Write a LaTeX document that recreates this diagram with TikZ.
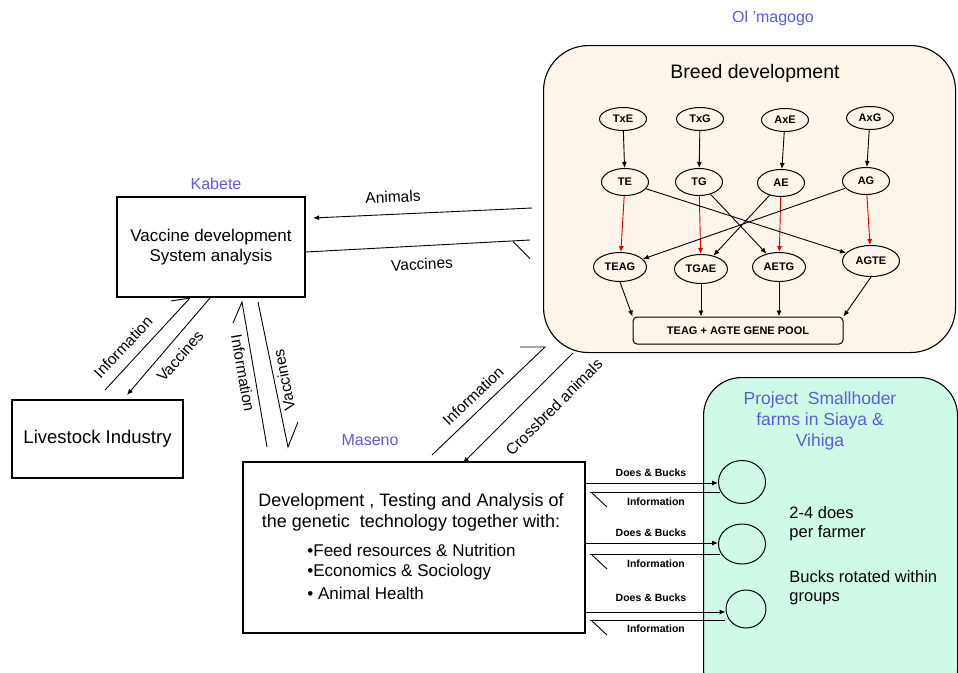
\documentclass[tikz,border=0pt]{standalone}
\usepackage{fontspec}
\setmainfont{Liberation Sans}
\usetikzlibrary{arrows.meta,calc,shapes.geometric}
\definecolor{lblue}{HTML}{5C5CE0}
\definecolor{beige}{HTML}{FDF4EA}
\definecolor{mint}{HTML}{CEFBE8}
\definecolor{redarr}{HTML}{E00000}
\begin{document}
\begin{tikzpicture}[x=1pt,y=-1pt,line width=0.9pt,
  tip/.style={-{Latex[length=6pt,width=5pt]}},
  box/.style={draw,line width=1.1pt,inner sep=0pt},
  blab/.style={text=lblue,font=\fontsize{16}{18}\selectfont},
  txt/.style={font=\fontsize{18}{20}\selectfont,inner sep=0pt},
  btxt/.style={font=\fontsize{17}{20}\selectfont,inner sep=0pt},
  alab/.style={font=\fontsize{15.5}{17}\selectfont,inner sep=0pt},
  tiny/.style={font=\fontsize{10.5}{12}\selectfont\bfseries,inner sep=0pt},
  ell/.style={draw,ellipse,line width=1pt,inner sep=0pt,minimum width=47pt,minimum height=27pt,font=\fontsize{11}{12}\selectfont\bfseries},
  farm/.style={draw,ellipse,line width=1pt,inner sep=0pt}]
\fill[white] (0,0) rectangle (958,672);
\useasboundingbox (0,0) rectangle (958,672);

% ---------- Ol'magogo ----------
\node[blab] (olt) at (773,18) {Ol 'magogo};
\node[box,rounded corners=45pt,fill=beige,minimum width=412pt,minimum height=307pt,anchor=north west] (breed) at (543,45) {};
\node[font=\fontsize{19.5}{21}\selectfont] (bt) at (755,73) {Breed development};

\node[ell,minimum height=23pt] (a1) at (623,119) {TxE};
\node[ell,minimum height=23pt] (a2) at (700,119) {TxG};
\node[ell,minimum height=23pt] (a3) at (785,120) {AxE};
\node[ell,minimum height=23pt] (a4) at (870,118) {AxG};
\node[ell] (b1) at (625,182) {TE};
\node[ell] (b2) at (699,182) {TG};
\node[ell] (b3) at (781,183) {AE};
\node[ell] (b4) at (866,181) {AG};
\node[ell,minimum width=53pt,minimum height=29pt] (c1) at (620,267) {TEAG};
\node[ell,minimum width=53pt,minimum height=29pt] (c2) at (701,269) {TGAE};
\node[ell,minimum width=53pt,minimum height=29pt] (c3) at (779,267) {AETG};
\node[ell,minimum width=57pt,minimum height=31pt] (c4) at (871,261) {AGTE};
\node[box,line width=1pt,rounded corners=4pt,minimum width=210pt,minimum height=27pt,font=\fontsize{11}{12}\selectfont\bfseries] (pool) at (738,330.5) {TEAG + AGTE GENE POOL};

\foreach \i in {1,2,3,4} {\draw[tip] (a\i) -- (b\i);}
\foreach \i in {1,2,3,4} {\draw[tip,redarr] (b\i) -- (c\i);}
\draw[tip] (b1) -- (c4);
\draw[tip] (b2) -- (c3);
\draw[tip] (b3) -- (c2);
\draw[tip] (b4) -- (c1);
\draw[tip] (c1.south) -- (pool.north west);
\draw[tip] (c2.south) -- (c2.south |- pool.north);
\draw[tip] (c3.south) -- (c3.south |- pool.north);
\draw[tip] (c4.south) -- (pool.north east);

% ---------- Kabete ----------
\node[blab] (kabt) at (216,184) {Kabete};
\node[box,minimum width=188pt,minimum height=100pt,align=center,font=\fontsize{17}{20}\selectfont] (kab) at (211,247) {Vaccine development\\System analysis};

% ---------- Livestock ----------
\node[box,minimum width=171pt,minimum height=78pt,font=\fontsize{18.5}{20}\selectfont] (live) at (97.5,439) {Livestock Industry};

% ---------- Maseno ----------
\node[blab] (mast) at (370,440) {Maseno};
\node[box,minimum width=342pt,minimum height=171pt] (mas) at (414,547.5) {};
\node[txt] (m1) at (411,502) {Development , Testing and Analysis of};
\node[txt] (m2) at (411,523) {the genetic \ technology together with:};
\node[btxt,anchor=west] (m3) at (307,550) {•Feed resources \& Nutrition};
\node[btxt,anchor=west] (m4) at (307,572) {•Economics \& Sociology};
\node[btxt,anchor=west] (m5) at (307,593) {• Animal Health};

% ---------- Smallholder farms ----------
\node[box,rounded corners=38pt,fill=mint,minimum width=254pt,minimum height=330pt,anchor=north west] (farms) at (703,377) {};
\node[blab,align=center,font=\fontsize{17.5}{21}\selectfont] (fart) at (820,421) {Project \ Smallhoder\\farms in Siaya \&\\Vihiga};
\node[farm,minimum width=47pt,minimum height=43pt] (f1) at (742,482) {};
\node[farm,minimum width=47pt,minimum height=40pt] (f2) at (742,544) {};
\node[farm,minimum width=40pt,minimum height=38pt] (f3) at (746,609) {};
\node[btxt,anchor=west,align=left,font=\fontsize{16.5}{19}\selectfont] (ft1) at (789,524) {2-4 does\\per farmer};
\node[btxt,anchor=west,align=left,font=\fontsize{16.5}{19}\selectfont] (ft2) at (789,588) {Bucks rotated within\\groups};

% ---------- connectors ----------
% Ol'magogo <-> Kabete
\coordinate (anS) at (532,208);
\coordinate (anE) at (313,218);
\draw[tip] (anS) -- (anE);
\node[alab,rotate=2.6] (lanim) at (393,197) {Animals};
\coordinate (vkS) at (kab.east |- 0,252);
\coordinate (vkE) at (530,240);
\coordinate (vkH) at (513,241.5);
\draw (vkS) -- (vkE);
\draw (vkH) -- ++(17,17);
\node[alab,rotate=3] (lvac) at (422,264) {Vaccines};

% Kabete <-> Livestock
\coordinate (ilS) at (105,390);
\coordinate (ilE) at (190,298);
\draw (ilS) -- (ilE) -- ++(-19,3);
\node[alab,rotate=47] (linf1) at (123,347) {Information};
\coordinate (vlS) at (210,298);
\coordinate (vlE) at (127,395);
\draw[tip] (vlS) -- (vlE);
\node[alab,rotate=49] (lvac1) at (180,356) {Vaccines};

% Kabete <-> Maseno
\coordinate (imS) at (267,447);
\coordinate (imE) at (242,302);
\draw (imS) -- (imE) -- ++(-9,21);
\node[alab,rotate=-80] (linf2) at (243,373) {Information};
\coordinate (vmS) at (258,302);
\coordinate (vmE) at (288,447);
\draw (vmS) -- (vmE) -- ++(10,-25);
\node[alab,rotate=101] (lvac2) at (284,380) {Vaccines};

% Maseno <-> Ol'magogo
\coordinate (ioS) at (432,455);
\coordinate (ioE) at (545,347);
\draw (ioS) -- (ioE) -- ++(-25,0);
\node[alab,rotate=44] (linf3) at (473,396) {Information};
\coordinate (caS) at (573,353);
\coordinate (caE) at (463,463);
\draw[tip] (caS) -- (caE);
\node[alab,rotate=45] (lcross) at (554,407) {Crossbred animals};

% Maseno <-> farms
\foreach \k/\ya/\yi/\xi in {1/483/492/720, 2/543/554/720, 3/612/620/725} {
  \coordinate (dS\k) at (mas.east |- 0,\ya);
  \draw[tip] (dS\k) -- (f\k.west |- 0,\ya);
  \coordinate (iS\k) at (\xi,\yi);
  \coordinate (iE\k) at (590,\yi);
  \draw (iS\k) -- (iE\k);
  \draw ($(iE\k)+(2,1)$) -- ++(15,14);
}
\node[tiny] (db1) at (651,473) {Does \& Bucks};
\node[tiny] (db2) at (651,533) {Does \& Bucks};
\node[tiny] (db3) at (651,598) {Does \& Bucks};
\node[tiny] (in1) at (656,502) {Information};
\node[tiny] (in2) at (656,564) {Information};
\node[tiny] (in3) at (656,629) {Information};
\end{tikzpicture}
\end{document}
